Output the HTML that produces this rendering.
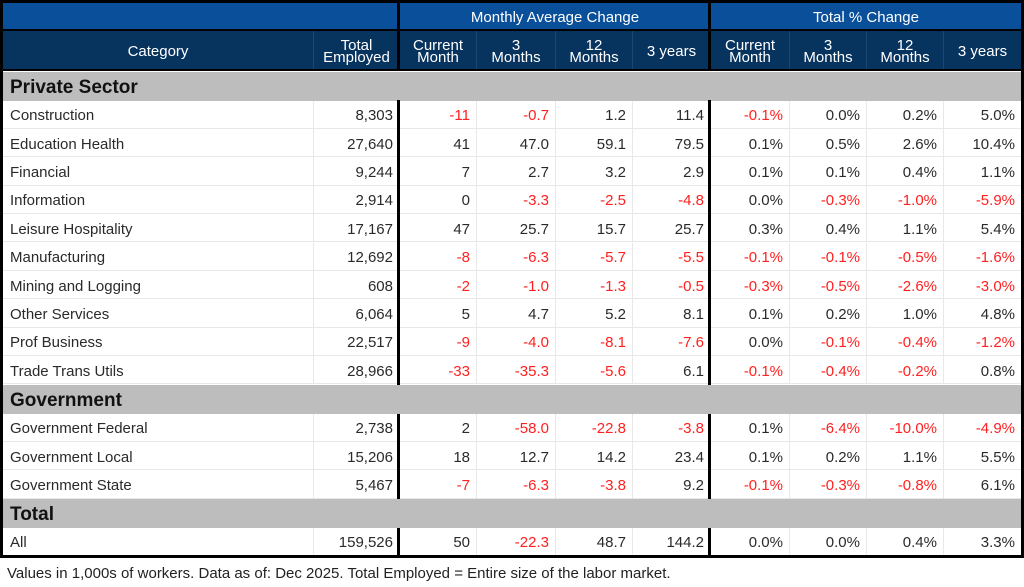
<!DOCTYPE html>
<html><head><meta charset="utf-8"><style>
body{margin:0;width:1024px;height:587px;background:#fff;font-family:"Liberation Sans",sans-serif;position:relative;overflow:hidden}
.c{position:absolute;box-sizing:border-box;display:flex;align-items:center;font-size:15px;color:#2a2a2a;white-space:nowrap;padding-top:3px}
.r{justify-content:flex-end;padding-right:6px}
.l{padding-left:7px}
.ctr{justify-content:center;text-align:center}
.neg{color:#ff2020}
.h{color:#fff;font-size:15px;line-height:12px;padding-top:2px}
.sec{font-weight:bold;font-size:19px;color:#111}
.vl{position:absolute;background:#000}
</style></head><body>
<div id="tbl"></div>
<div class="c l" style="left:0;top:561px;height:22px;font-size:15px;color:#222">Values in 1,000s of workers. Data as of: Dec 2025. Total Employed = Entire size of the labor market.</div>
<script>
const categories=["Construction","Education Health","Financial","Information","Leisure Hospitality","Manufacturing","Mining and Logging","Other Services","Prof Business","Trade Trans Utils","Government Federal","Government Local","Government State","All"];
const totalEmployed=["8,303","27,640","9,244","2,914","17,167","12,692","608","6,064","22,517","28,966","2,738","15,206","5,467","159,526"];
const currentMonth=[-11,41,7,0,47,-8,-2,5,-9,-33,2,18,-7,50];
const months3=[-0.7,47.0,2.7,-3.3,25.7,-6.3,-1.0,4.7,-4.0,-35.3,-58.0,12.7,-6.3,-22.3];
const months12=[1.2,59.1,3.2,-2.5,15.7,-5.7,-1.3,5.2,-8.1,-5.6,-22.8,14.2,-3.8,48.7];
const years3=[11.4,79.5,2.9,-4.8,25.7,-5.5,-0.5,8.1,-7.6,6.1,-3.8,23.4,9.2,144.2];
const pctCurrent=[-0.1,0.1,0.1,0.0,0.3,-0.1,-0.3,0.1,0.0,-0.1,0.1,0.1,-0.1,0.0];
const pct3=[0.0,0.5,0.1,-0.3,0.4,-0.1,-0.5,0.2,-0.1,-0.4,-6.4,0.2,-0.3,0.0];
const pct12=[0.2,2.6,0.4,-1.0,1.1,-0.5,-2.6,1.0,-0.4,-0.2,-10.0,1.1,-0.8,0.4];
const pct3y=[5.0,10.4,1.1,-5.9,5.4,-1.6,-3.0,4.8,-1.2,0.8,-4.9,5.5,6.1,3.3];
const sections=[["Private Sector",0],["Government",10],["Total",13]];

const T=document.getElementById('tbl');
const X=[3,313,399,476,555,632,710,789,866,943,1021];
function cell(x,y,w,h,txt,cls,bg,name){
  const d=document.createElement('div');
  d.className='c '+cls;
  d.style.cssText=`left:${x}px;top:${y}px;width:${w}px;height:${h}px;`+(bg?`background:${bg};`:'');
  d.innerHTML=txt;
  
  
  T.appendChild(d);return d;
}
cell(3,3,396,27,'','ctr h','#0a4f9a','header-blank');
cell(400,3,310,27,'Monthly Average Change','ctr h','#0a4f9a','header-monthly-average-change');
cell(711,3,310,27,'Total % Change','ctr h','#0a4f9a','header-total-pct-change');
const hdr=["Category","Total<br>Employed","Current<br>Month","3<br>Months","12<br>Months","3 years","Current<br>Month","3<br>Months","12<br>Months","3 years"];
for(let i=0;i<10;i++){
  const d=cell(X[i],31,X[i+1]-X[i],39,hdr[i],'ctr h','#07335f','column-header');
  d.style.borderLeft=i?'1px solid #1d4672':'';
}
const fmt1=v=>v.toFixed(1), fmtP=v=>v.toFixed(1)+'%';
let y=71.5;
for(let i=0;i<categories.length;i++){
  const s=sections.find(s=>s[1]===i);
  if(s){cell(3,y,1018,29,s[0],'l sec','#bdbdbd','section-'+s[0].toLowerCase().replace(/ /g,'-'));y+=29;}
  const h=28.4;
  const vals=[categories[i],totalEmployed[i],String(currentMonth[i]),fmt1(months3[i]),fmt1(months12[i]),fmt1(years3[i]),fmtP(pctCurrent[i]),fmtP(pct3[i]),fmtP(pct12[i]),fmtP(pct3y[i])];
  const nums=[null,null,currentMonth[i],months3[i],months12[i],years3[i],pctCurrent[i],pct3[i],pct12[i],pct3y[i]];
  for(let j=0;j<10;j++){
    const neg=nums[j]!==null&&nums[j]<0;
    const d=cell(X[j],y,X[j+1]-X[j],h,vals[j],(j?'r':'l')+(neg?' neg':''),'#fff','table-cell');
    d.style.borderLeft=j?'1px solid #e8e8e8':'';
    d.style.borderBottom='1px solid #e8e8e8';
  }
  y+=h;
}
function vline(x,y,w,h){const d=document.createElement('div');d.className='vl';d.style.cssText=`left:${x}px;top:${y}px;width:${w}px;height:${h}px`;T.appendChild(d);}
vline(0,0,1024,3);
vline(0,0,3,558);vline(1021,0,3,558);
vline(0,555,1024,3);
vline(0,29,1024,2);vline(0,69,1024,2);
vline(397,0,3,71);vline(708,0,3,71);
[[100,385],[414,499],[528,556]].forEach(([a,b])=>{vline(397,a,3,b-a);vline(708,a,3,b-a);});
</script>
</body></html>
